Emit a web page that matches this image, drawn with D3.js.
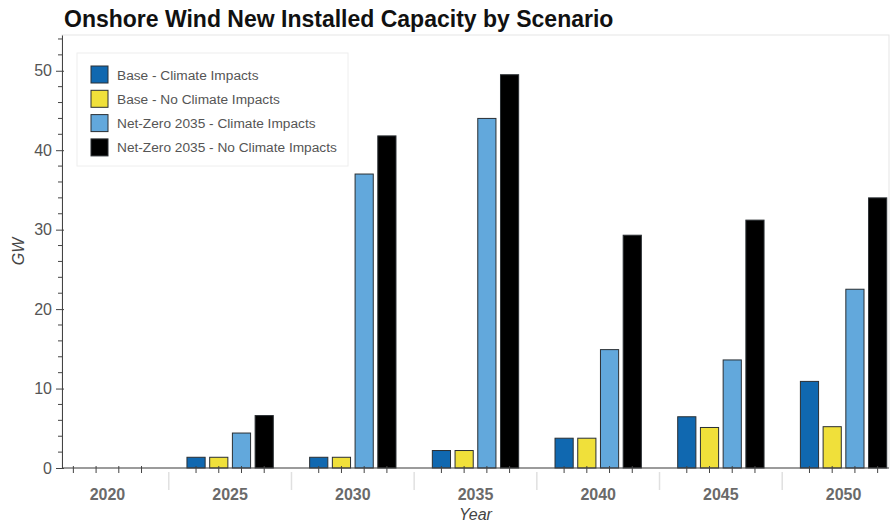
<!DOCTYPE html>
<html lang="en">
<head>
  <script src='https://d3js.org/d3.v7.min.js'></script>
  <style>
    body { margin: 0; background: #fff; }
    text { font-family: "Liberation Sans", Arial, Helvetica, sans-serif; }
  </style>
</head>
<body>
<script>
// chart data
var years = ["2020", "2025", "2030", "2035", "2040", "2045", "2050"];
var seriesNames = ["Base - Climate Impacts", "Base - No Climate Impacts",
  "Net-Zero 2035 - Climate Impacts", "Net-Zero 2035 - No Climate Impacts"];
var baseClimate = [0, 1.35, 1.35, 2.2, 3.75, 6.45, 10.9];
var baseNoClimate = [0, 1.35, 1.35, 2.2, 3.75, 5.1, 5.2];
var nzClimate = [0, 4.4, 37.0, 44.0, 14.9, 13.6, 22.5];
var nzNoClimate = [0, 6.6, 41.8, 49.5, 29.3, 31.2, 34.0];
var yTicks = [0, 10, 20, 30, 40, 50];
var colors = ["#1068b0", "#f0e03a", "#62a8dc", "#000000"];

var allSeries = [baseClimate, baseNoClimate, nzClimate, nzNoClimate];

const W = 891, H = 524;
const pLeft = 62, pRight = 889, pTop = 35, pBottom = 468;

const svg = d3.select("body").append("svg")
  .attr("width", W)
  .attr("height", H);

// group scale (years) and nested scale (scenarios)
var x0 = d3.scaleBand().domain(years).range([pLeft, pRight])
  .paddingInner(1.4 / 5.4).paddingOuter(0);
var x1 = d3.scaleBand().domain(seriesNames).range([0, x0.bandwidth()])
  .paddingInner(0.2).paddingOuter(0.1);
var y = d3.scaleLinear().domain([0, 54.5]).range([pBottom, pTop]);

// plot outline
svg.append("rect")
  .attr("x", pLeft).attr("y", pTop)
  .attr("width", pRight - pLeft).attr("height", pBottom - pTop)
  .attr("fill", "none").attr("stroke", "#e5e5e5");

// bars
var groups = svg.selectAll("g.year")
  .data(years)
  .enter().append("g")
  .attr("class", "year")
  .attr("transform", function(d) { return "translate(" + x0(d) + ",0)"; });

groups.selectAll("rect")
  .data(function(d, i) {
    return seriesNames.map(function(s, j) { return {s: s, j: j, v: allSeries[j][i]}; })
      .filter(function(e) { return e.v > 0; });
  })
  .enter().append("rect")
  .attr("x", function(d) { return x1(d.s); })
  .attr("y", function(d) { return y(d.v); })
  .attr("width", x1.bandwidth())
  .attr("height", function(d) { return y(0) - y(d.v); })
  .attr("fill", function(d) { return colors[d.j]; })
  .attr("stroke", "#2a2f33")
  .attr("stroke-width", 1);

// y axis
var yAxis = svg.append("g")
  .attr("transform", "translate(" + pLeft + ",0)")
  .call(d3.axisLeft(y).tickValues(yTicks).tickSize(6).tickSizeOuter(0).tickPadding(4));
yAxis.selectAll(".tick line").attr("x1", 2).attr("stroke", "#444");
yAxis.select(".domain").attr("stroke", "#444");
yAxis.selectAll(".tick text")
  .attr("font-size", 16).attr("fill", "#555")
  .style("font-family", "'Liberation Sans', Arial, sans-serif");

var minor = d3.range(0, 55, 2).filter(function(v) { return v % 10 !== 0; });
svg.append("g").selectAll("line")
  .data(minor)
  .enter().append("line")
  .attr("x1", pLeft - 4).attr("x2", pLeft)
  .attr("y1", function(d) { return y(d); })
  .attr("y2", function(d) { return y(d); })
  .attr("stroke", "#444");

// x axis line and sub-factor ticks
svg.append("line")
  .attr("x1", pLeft).attr("x2", pRight)
  .attr("y1", pBottom).attr("y2", pBottom)
  .attr("stroke", "#444");

groups.selectAll("line.tick")
  .data(seriesNames)
  .enter().append("line")
  .attr("class", "tick")
  .attr("x1", function(d) { return x1(d) + x1.bandwidth() / 2; })
  .attr("x2", function(d) { return x1(d) + x1.bandwidth() / 2; })
  .attr("y1", pBottom - 2).attr("y2", pBottom + 5)
  .attr("stroke", "#444");

// group separators
svg.selectAll("line.sep")
  .data(years.slice(1))
  .enter().append("line")
  .attr("class", "sep")
  .attr("x1", function(d) { return x0(d) - x0.step() * x0.paddingInner() / 2; })
  .attr("x2", function(d) { return x0(d) - x0.step() * x0.paddingInner() / 2; })
  .attr("y1", pBottom + 4).attr("y2", pBottom + 22)
  .attr("stroke", "#e0e0e0").attr("stroke-width", 1.5);

// group labels
groups.append("text")
  .attr("x", x0.bandwidth() / 2)
  .attr("y", 500)
  .attr("text-anchor", "middle")
  .attr("font-size", 16).attr("font-weight", "bold")
  .attr("fill", "#6a6a6a")
  .text(function(d) { return d; });

// axis titles
svg.append("text")
  .attr("x", (pLeft + pRight) / 2).attr("y", 520)
  .attr("text-anchor", "middle")
  .attr("font-size", 16).attr("font-style", "italic")
  .attr("fill", "#444")
  .text("Year");

svg.append("text")
  .attr("transform", "translate(24," + ((pTop + pBottom) / 2) + ") rotate(-90)")
  .attr("text-anchor", "middle")
  .attr("font-size", 16).attr("font-style", "italic")
  .attr("fill", "#444")
  .text("GW");

// title
svg.append("text")
  .attr("x", 64).attr("y", 27)
  .attr("font-size", 23).attr("font-weight", "bold")
  .attr("fill", "#111")
  .text("Onshore Wind New Installed Capacity by Scenario");

// legend
var legend = svg.append("g").attr("transform", "translate(77,53)");
legend.append("rect")
  .attr("width", 271).attr("height", 113)
  .attr("fill", "#fff").attr("stroke", "#eeeeee");
var items = legend.selectAll("g.item")
  .data(seriesNames)
  .enter().append("g")
  .attr("class", "item")
  .attr("transform", function(d, i) { return "translate(14," + (13 + i * 24.3) + ")"; });
items.append("rect")
  .attr("width", 17).attr("height", 17)
  .attr("fill", function(d, i) { return colors[i]; })
  .attr("stroke", "#2a2f33");
items.append("text")
  .attr("x", 26).attr("y", 13.5)
  .attr("font-size", 13.7).attr("fill", "#555")
  .text(function(d) { return d; });
</script>
</body>
</html>
